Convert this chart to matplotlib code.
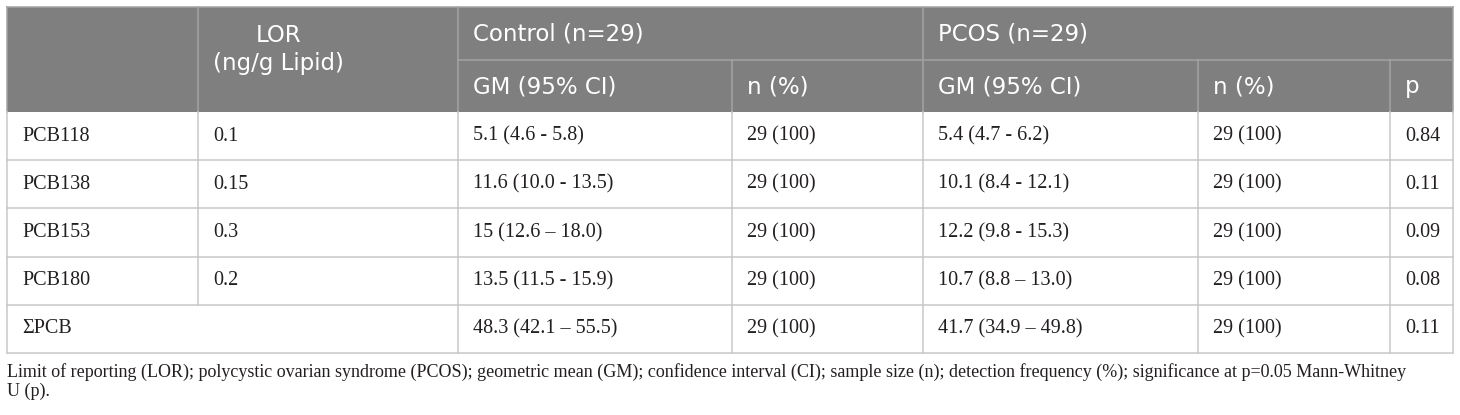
import matplotlib
matplotlib.use("Agg")
import matplotlib.pyplot as plt
from matplotlib.patches import Rectangle

# ---- data ----
compounds = ["PCB118", "PCB138", "PCB153", "PCB180", "\u03a3PCB"]
lor_values = ["0.1", "0.15", "0.3", "0.2", ""]
control_gm = ["5.1 (4.6 - 5.8)", "11.6 (10.0 - 13.5)", "15 (12.6 \u2013 18.0)",
              "13.5 (11.5 - 15.9)", "48.3 (42.1 \u2013 55.5)"]
control_n = ["29 (100)", "29 (100)", "29 (100)", "29 (100)", "29 (100)"]
pcos_gm = ["5.4 (4.7 - 6.2)", "10.1 (8.4 - 12.1)", "12.2 (9.8 - 15.3)",
           "10.7 (8.8 \u2013 13.0)", "41.7 (34.9 \u2013 49.8)"]
pcos_n = ["29 (100)", "29 (100)", "29 (100)", "29 (100)", "29 (100)"]
p_values = ["0.84", "0.11", "0.09", "0.08", "0.11"]

group_headers = ["Control (n=29)", "PCOS (n=29)"]
sub_headers = ["GM (95% CI)", "n (%)", "GM (95% CI)", "n (%)", "p"]
lor_header = "LOR\n(ng/g Lipid)"
footnote_lines = [
    "Limit of reporting (LOR); polycystic ovarian syndrome (PCOS); geometric mean (GM); "
    "confidence interval (CI); sample size (n); detection frequency (%); significance at "
    "p=0.05 Mann-Whitney",
    "U (p).",
]

# ---- layout (pixels) ----
W, H = 1460, 415
col_x = [7, 198, 458, 732, 923, 1198, 1390, 1453]
y_top, y_mid, y_head = 7, 60, 112
row_h = 48.2
HEAD_BG = "#7f7f7f"
HEAD_LINE = "#a3a3a3"
BODY_LINE = "#c9c9c9"
TXT = "#231f20"
head_font = dict(family="DejaVu Sans", size=16.5, color="white")
body_font = dict(family="Liberation Serif", size=14.5, color=TXT)

fig = plt.figure(figsize=(W / 100, H / 100), dpi=100)
ax = fig.add_axes([0, 0, 1, 1])
ax.set_xlim(0, W)
ax.set_ylim(H, 0)
ax.axis("off")

lw = 1.1
# header background
ax.add_patch(Rectangle((col_x[0], y_top), col_x[-1] - col_x[0], y_head - y_top,
                       facecolor=HEAD_BG, edgecolor="none", zorder=1))
# header lines
ax.plot([col_x[0], col_x[-1]], [y_top, y_top], color=HEAD_LINE, lw=lw, zorder=2)
ax.plot([col_x[2], col_x[-1]], [y_mid, y_mid], color=HEAD_LINE, lw=lw, zorder=2)
for i in [0, 1, 2, 4, 7]:
    ax.plot([col_x[i], col_x[i]], [y_top, y_head], color=HEAD_LINE, lw=lw, zorder=2)
for i in [3, 5, 6]:
    ax.plot([col_x[i], col_x[i]], [y_mid, y_head], color=HEAD_LINE, lw=lw, zorder=2)

# header text
pad = 15
ax.text(col_x[1] + pad, 49.5, lor_header, ha="left", va="center",
        multialignment="center", linespacing=1.25, **head_font)
ax.text(col_x[2] + pad, (y_top + y_mid) / 2 + 0.5, group_headers[0], ha="left", va="center", **head_font)
ax.text(col_x[4] + pad, (y_top + y_mid) / 2 + 0.5, group_headers[1], ha="left", va="center", **head_font)
for j, h in enumerate(sub_headers):
    ax.text(col_x[2 + j] + pad, (y_mid + y_head) / 2 + 0.5, h, ha="left", va="center", **head_font)

# body
n_rows = len(compounds)
for r in range(n_rows):
    y0 = y_head + r * row_h
    yc = y0 + row_h / 2
    cells = [compounds[r], lor_values[r], control_gm[r], control_n[r],
             pcos_gm[r], pcos_n[r], p_values[r]]
    for c, val in enumerate(cells):
        if val:
            ax.text(col_x[c] + pad, yc, val, ha="left", va="center", **body_font)
    ax.plot([col_x[0], col_x[-1]], [y0 + row_h, y0 + row_h], color=BODY_LINE, lw=lw, zorder=2)
    for c in range(len(col_x)):
        if c == 1 and lor_values[r] == "":
            continue
        ax.plot([col_x[c], col_x[c]], [y0, y0 + row_h], color=BODY_LINE, lw=lw, zorder=2)

for k, line in enumerate(footnote_lines):
    ax.text(col_x[0], 372.5 + k * 19, line, ha="left", va="center",
            family="Liberation Serif", size=12.95, color=TXT)

fig.savefig("out.png", dpi=100)
